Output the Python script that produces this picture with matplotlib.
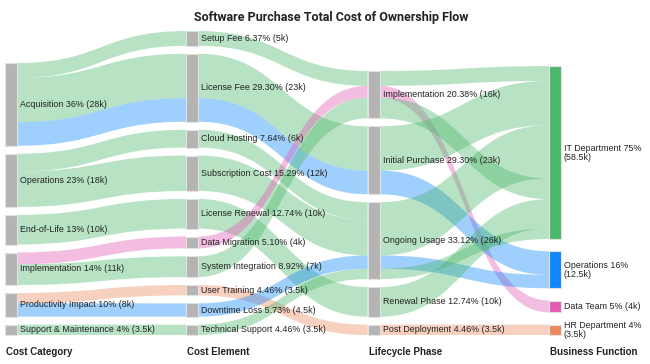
import textwrap
import matplotlib
matplotlib.use("Agg")
import matplotlib.pyplot as plt
from matplotlib.path import Path
from matplotlib.patches import PathPatch, Rectangle

plt.rcParams['font.family'] = ['Liberation Sans', 'DejaVu Sans']

# ---------------- data ----------------
title = "Software Purchase Total Cost of Ownership Flow"
column_titles = ["Cost Category", "Cost Element", "Lifecycle Phase", "Business Function"]

cost_categories = ["Acquisition", "Operations", "End-of-Life", "Implementation",
                   "Productivity Impact", "Support & Maintenance"]
cost_elements = ["Setup Fee", "License Fee", "Cloud Hosting", "Subscription Cost",
                 "License Renewal", "Data Migration", "System Integration",
                 "User Training", "Downtime Loss", "Technical Support"]
lifecycle_phases = ["Implementation", "Initial Purchase", "Ongoing Usage",
                    "Renewal Phase", "Post Deployment"]
business_functions = ["IT Department", "Operations", "Data Team", "HR Department"]

# stage 1: Cost Category -> Cost Element (values in k)
s1_source = ["Acquisition", "Acquisition", "Acquisition", "Operations", "Operations",
             "End-of-Life", "Implementation", "Implementation", "Productivity Impact",
             "Productivity Impact", "Support & Maintenance"]
s1_target = ["Setup Fee", "License Fee", "License Fee", "Cloud Hosting", "Subscription Cost",
             "License Renewal", "Data Migration", "System Integration", "User Training",
             "Downtime Loss", "Technical Support"]
s1_value = [5, 15, 8, 6, 12, 10, 4, 7, 3.5, 4.5, 3.5]
s1_group = ["IT Department", "IT Department", "Operations", "IT Department", "IT Department",
            "IT Department", "Data Team", "IT Department", "HR Department", "Operations",
            "IT Department"]

# stage 2: Cost Element -> Lifecycle Phase
s2_source = ["Setup Fee", "License Fee", "License Fee", "Cloud Hosting", "Subscription Cost",
             "License Renewal", "Data Migration", "System Integration", "User Training",
             "Downtime Loss", "Technical Support"]
s2_target = ["Implementation", "Initial Purchase", "Initial Purchase", "Ongoing Usage",
             "Ongoing Usage", "Renewal Phase", "Implementation", "Implementation",
             "Post Deployment", "Ongoing Usage", "Ongoing Usage"]
s2_value = [5, 15, 8, 6, 12, 10, 4, 7, 3.5, 4.5, 3.5]
s2_group = s1_group

# stage 3: Lifecycle Phase -> Business Function
s3_source = ["Implementation", "Implementation", "Initial Purchase", "Initial Purchase",
             "Ongoing Usage", "Ongoing Usage", "Ongoing Usage", "Implementation",
             "Renewal Phase", "Ongoing Usage", "Post Deployment"]
s3_target = ["IT Department", "Data Team", "IT Department", "Operations", "IT Department",
             "IT Department", "Operations", "IT Department", "IT Department",
             "IT Department", "HR Department"]
s3_value = [5, 4, 15, 8, 6, 12, 4.5, 7, 10, 3.5, 3.5]
s3_group = s3_target

function_colors = {"IT Department": "#4cb86b", "Operations": "#1088fb",
                   "Data Team": "#e25cb6", "HR Department": "#ee8a62"}

# ---------------- layout ----------------
W, H = 650, 364
fig = plt.figure(figsize=(6.5, 3.64), dpi=100)
ax = fig.add_axes([0, 0, 1, 1])
ax.set_xlim(0, W)
ax.set_ylim(H, 0)
ax.axis('off')

columns = [cost_categories, cost_elements, lifecycle_phases, business_functions]
stages = [(s1_source, s1_target, s1_value, s1_group),
          (s2_source, s2_target, s2_value, s2_group),
          (s3_source, s3_target, s3_value, s3_group)]

left, right, nw = 5, 561, 12
step = (right - left - nw) / 3
bottom = 335
scale = 2.955
gaps = [8, 8, 8, 12.3]

node_val = {}
for c, names in enumerate(columns):
    for n in names:
        if c < 3:
            src, tgt, val, _ = stages[c]
            node_val[(c, n)] = sum(v for s, v in zip(src, val) if s == n)
        else:
            src, tgt, val, _ = stages[c - 1]
            node_val[(c, n)] = sum(v for t, v in zip(tgt, val) if t == n)

total = sum(node_val[(0, n)] for n in cost_categories)

node_top = {}
for c, names in enumerate(columns):
    hsum = sum(node_val[(c, n)] for n in names) * scale + gaps[c] * (len(names) - 1)
    y = bottom - hsum
    for n in names:
        node_top[(c, n)] = y
        y += node_val[(c, n)] * scale + gaps[c]

# links
for c, (src, tgt, val, grp) in enumerate(stages):
    out_off = {}
    in_off = {}
    x0 = left + c * step + nw
    x1 = left + (c + 1) * step
    xm = (x0 + x1) / 2
    for s, t, v, g in zip(src, tgt, val, grp):
        th = v * scale
        y0 = node_top[(c, s)] + out_off.get(s, 0)
        y1 = node_top[(c + 1, t)] + in_off.get(t, 0)
        out_off[s] = out_off.get(s, 0) + th
        in_off[t] = in_off.get(t, 0) + th
        verts = [(x0, y0), (xm, y0), (xm, y1), (x1, y1),
                 (x1, y1 + th), (xm, y1 + th), (xm, y0 + th), (x0, y0 + th), (x0, y0)]
        codes = [Path.MOVETO, Path.CURVE4, Path.CURVE4, Path.CURVE4,
                 Path.LINETO, Path.CURVE4, Path.CURVE4, Path.CURVE4, Path.CLOSEPOLY]
        ax.add_patch(PathPatch(Path(verts, codes), facecolor=function_colors[g],
                               alpha=0.4, lw=0, zorder=1))

# nodes and labels
for c, names in enumerate(columns):
    x = left + c * step
    for n in names:
        v = node_val[(c, n)]
        y = node_top[(c, n)]
        h = v * scale
        fc = function_colors[n] if c == 3 else "#b4b4b4"
        ax.add_patch(Rectangle((x, y), nw, h, facecolor=fc, edgecolor="#e2e2e2",
                               lw=0.8, zorder=2))
        pct = v / total * 100
        if c in (0, 3):
            label = f"{n} {pct:.0f}% ({v:g}k)"
        else:
            label = f"{n} {pct:.2f}% ({v:g}k)"
        if c == 3:
            label = "\n".join(textwrap.wrap(label, 17))
        ax.text(x + nw + 3, y + h / 2, label, fontsize=6.4, color="#222222",
                va="center", ha="left", zorder=3, linespacing=1.0)
    ax.text(x + 1, 352, column_titles[c], fontsize=7.0, fontweight="bold",
            color="#222222", va="center", ha="left")

ax.text(331, 17, title, fontsize=9, fontweight="bold", color="#222222",
        ha="center", va="center",
        family=['Liberation Sans Narrow', 'Roboto', 'DejaVu Sans'])

fig.savefig("out.png", dpi=100)
